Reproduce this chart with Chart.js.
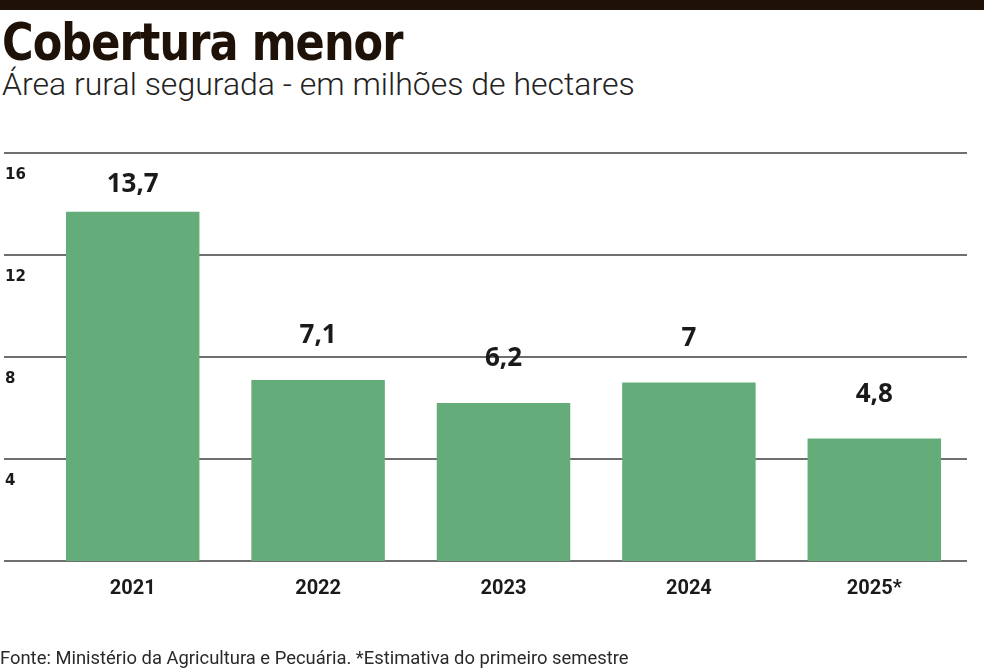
<!DOCTYPE html>
<html>
<head>
<meta charset="utf-8">
<script src="https://cdn.jsdelivr.net/npm/chart.js@4/dist/chart.umd.min.js"></script>
<style>
  html, body { margin: 0; padding: 0; background: #fff; }
  body { width: 984px; height: 668px; position: relative; overflow: hidden; }
  #topbar { position: absolute; left: 0; top: 0; width: 984px; height: 10px; background: #1e1208; }
  #title { position: absolute; left: 2px; top: 12px; font-family: "DejaVu Sans Condensed", "DejaVu Sans", sans-serif;
    font-weight: bold; font-size: 52px; color: #1e1208; letter-spacing: -1px; white-space: nowrap;
    transform: scaleX(0.92); transform-origin: left top; }
  #subtitle { position: absolute; left: 2px; top: 65px; font-family: "Roboto", sans-serif; font-weight: 300;
    font-size: 32px; color: #222; white-space: nowrap; }
  #source { position: absolute; left: 0; top: 647px; font-family: "Roboto", sans-serif;
    font-size: 18.4px; color: #2a2a2a; white-space: nowrap; }
  #wrap { position: absolute; left: 0; top: 0; width: 984px; height: 668px; }
</style>
</head>
<body>
<div id="topbar"></div>
<div id="title">Cobertura menor</div>
<div id="subtitle">Área rural segurada - em milhões de hectares</div>
<div id="wrap"><canvas id="myChart"></canvas></div>
<div id="source">Fonte: Ministério da Agricultura e Pecuária. *Estimativa do primeiro semestre</div>
<script>
const years = ["2021", "2022", "2023", "2024", "2025*"];
const area = [13.7, 7.1, 6.2, 7, 4.8];
const yTicks = [4, 8, 12, 16];

// grid lines + tick labels, drawn from the y scale
const gridPlugin = {
    id: "gridLines",
    beforeDatasetsDraw(chart) {
        const ctx = chart.ctx;
        const y = chart.scales.y;
        const right = chart.chartArea.right;
        ctx.save();
        ctx.strokeStyle = "#6e6e6e";
        ctx.lineWidth = 2;
        [0].concat(yTicks).forEach(t => {
            const py = Math.round(y.getPixelForValue(t));
            ctx.beginPath();
            ctx.moveTo(4, py);
            ctx.lineTo(right, py);
            ctx.stroke();
        });
        ctx.fillStyle = "#1a1a1a";
        ctx.font = "bold 15px 'DejaVu Sans', sans-serif";
        ctx.textAlign = "left";
        ctx.textBaseline = "middle";
        yTicks.forEach(t => {
            ctx.fillText(String(t), 5, y.getPixelForValue(t) + 22);
        });
        ctx.restore();
    }
};

// value labels above bars
const valuePlugin = {
    id: "values",
    afterDatasetsDraw(chart) {
        const ctx = chart.ctx;
        const meta = chart.getDatasetMeta(0);
        ctx.save();
        ctx.fillStyle = "#1a1a1a";
        ctx.font = "bold 26px 'Open Sans', sans-serif";
        ctx.textAlign = "center";
        ctx.textBaseline = "middle";
        meta.data.forEach((bar, i) => {
            const ty = Math.max(bar.y - 44, chart.chartArea.top + 32);
            ctx.fillText(String(area[i]).replace(".", ","), bar.x, ty);
        });
        ctx.restore();
    }
};

new Chart(document.getElementById("myChart"), {
    type: "bar",
    data: {
        labels: years,
        datasets: [{
            data: area,
            backgroundColor: "#64ad7a",
            borderWidth: 0,
            barPercentage: 0.9,
            categoryPercentage: 0.8
        }]
    },
    options: {
        responsive: true,
        maintainAspectRatio: false,
        animation: false,
        layout: { padding: { left: 40, right: 17, top: 153, bottom: 51 } },
        plugins: { legend: { display: false }, tooltip: { enabled: false } },
        scales: {
            x: {
                grid: { display: false, drawTicks: false },
                border: { display: false },
                ticks: {
                    color: "#1a1a1a",
                    padding: 16,
                    font: { family: "Roboto, sans-serif", weight: "bold", size: 20 }
                }
            },
            y: {
                display: false,
                min: 0,
                max: 16
            }
        }
    },
    plugins: [gridPlugin, valuePlugin]
});
</script>
</body>
</html>
